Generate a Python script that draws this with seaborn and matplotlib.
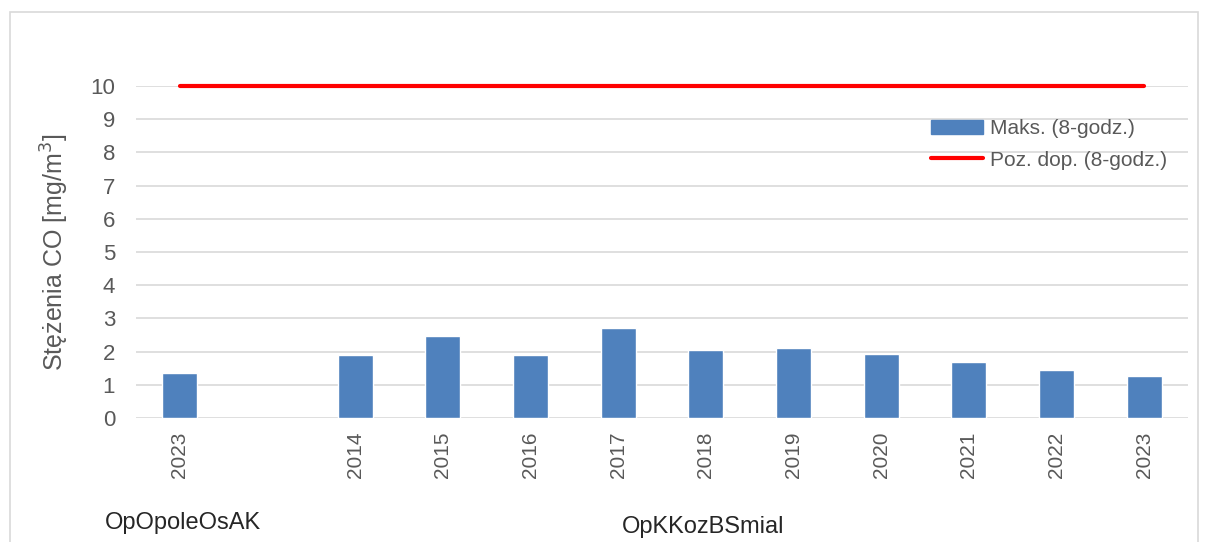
import pandas as pd
import seaborn as sns
import matplotlib.pyplot as plt
from matplotlib.patches import Rectangle
from matplotlib.lines import Line2D

# slot 0: OpOpoleOsAK, slot 1: gap, slots 2-11: OpKKozBSmial
slot_labels = ["2023", "", "2014", "2015", "2016", "2017", "2018",
               "2019", "2020", "2021", "2022", "2023"]
max_8h = [1.36, None, 1.89, 2.46, 1.89, 2.70, 2.06, 2.12, 1.94, 1.70, 1.45, 1.25]
limit_8h = [10] * 12
stations = ["OpOpoleOsAK", "OpKKozBSmial"]

df = pd.DataFrame({"slot": range(12), "max": max_8h, "limit": limit_8h})
bars = df.dropna(subset=["max"])

sns.set_style("white")
plt.rcParams["font.family"] = ["Liberation Sans", "DejaVu Sans"]

fig = plt.figure(figsize=(12.08, 5.42), dpi=100)
ax = fig.add_axes([0.1126, 0.2288, 0.8708, 0.6125])

sns.barplot(data=bars, x="slot", y="max", order=list(range(12)),
            color="#4F81BD", saturation=1, width=0.4, ax=ax)
ax.plot(df["slot"], df["limit"], color="#FF0000", lw=3,
        solid_capstyle="round", clip_on=False, zorder=4)

ax.set_xlim(-0.5, 11.5)
ax.set_ylim(0, 10)
ax.set_yticks(range(11))
ax.yaxis.grid(True, color="#D9D9D9", lw=1.2)
ax.set_axisbelow(True)
for s in ax.spines.values():
    s.set_visible(False)
ax.set_xticks(range(12))
ax.set_xticklabels(slot_labels, rotation=90, color="#595959", fontsize=15)
ax.tick_params(axis="y", labelsize=16, colors="#595959", length=0, pad=15)
ax.tick_params(axis="x", length=0, pad=10)
ax.set_xlabel("")
ax.set_ylabel("Stężenia CO [mg/m$^3$]", fontsize=18, color="#595959", labelpad=14)

fig.text(183 / 1208, 1 - 523 / 542, stations[0], ha="center", va="center", fontsize=17)
fig.text(703 / 1208, 1 - 527 / 542, stations[1], ha="center", va="center", fontsize=17)

handles = [Rectangle((0, 0), 1, 1, color="#4F81BD"),
           Line2D([], [], color="#FF0000", lw=3, solid_capstyle="round")]
leg = ax.legend(handles, ["Maks. (8-godz.)", "Poz. dop. (8-godz.)"],
                loc="upper left", bbox_to_anchor=(0.756, 0.90), frameon=False,
                borderpad=0, borderaxespad=0, fontsize=15, handlelength=2.5,
                handletextpad=0.3, labelspacing=0.6)
for t in leg.get_texts():
    t.set_color("#595959")

fig.patches.append(Rectangle((10 / 1208, -0.1), 1188 / 1208, 1.1 - 12 / 542,
                             transform=fig.transFigure, fill=False,
                             edgecolor="#D9D9D9", lw=1.2))

fig.savefig("out.png", dpi=100)
